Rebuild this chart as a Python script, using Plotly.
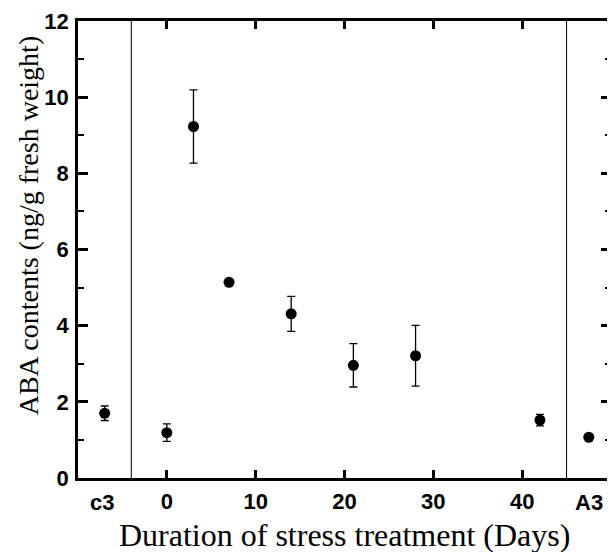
import plotly.graph_objects as go

# Data (days after start of stress; c3 = control, A3 = after recovery)
days = [-7, 0, 3, 7, 14, 21, 28, 42, 47.5]
aba = [1.70, 1.19, 9.23, 5.14, 4.31, 2.96, 3.21, 1.52, 1.07]
err = [0.19, 0.23, 0.96, 0.05, 0.46, 0.57, 0.80, 0.15, 0.05]

x_tickvals = [0, 10, 20, 30, 40]
x_ticktext = ["0", "10", "20", "30", "40"]
side_labels = ["c3", "A3"]
side_label_pos = [-7.3, 47.5]
divider_pos = [-4, 45]
y_tickvals = [0, 2, 4, 6, 8, 10, 12]

x_title = "Duration of stress treatment (Days)"
y_title = "ABA contents (ng/g fresh weight)"

tick_font = dict(family="Liberation Sans, Arial, sans-serif", size=22, color="black")
xtitle_font = dict(family="Liberation Serif, Times New Roman, serif", size=32, color="black")
ytitle_font = dict(family="Liberation Serif, Times New Roman, serif", size=28, color="black")

fig = go.Figure()
fig.add_trace(go.Scatter(
    x=days, y=aba, mode="markers",
    marker=dict(color="black", size=11),
    error_y=dict(type="data", array=err, visible=True, color="black", thickness=1.3, width=4),
    showlegend=False, cliponaxis=False,
))

for xv in divider_pos:
    fig.add_shape(type="line", xref="x", yref="paper", x0=xv, x1=xv, y0=0, y1=1,
                  line=dict(color="black", width=1))

for lab, xv in zip(side_labels, side_label_pos):
    fig.add_annotation(x=xv, xref="x", y=0, yref="paper", yanchor="middle", yshift=-24,
                       text="<b>%s</b>" % lab, showarrow=False, font=tick_font)

fig.add_annotation(x=0.5, xref="paper", y=0, yref="paper", yanchor="middle", yshift=-57,
                   text=x_title, showarrow=False, font=xtitle_font)
fig.add_annotation(x=0, xref="paper", y=0.553, yref="paper", xanchor="center", yanchor="middle",
                   xshift=-50, textangle=-90, text=y_title, showarrow=False, font=ytitle_font)

fig.update_xaxes(
    range=[-10, 50], tickvals=x_tickvals, ticktext=["<b>%s</b>" % t for t in x_ticktext],
    ticks="inside", ticklen=8, tickwidth=2.5, tickcolor="black",
    showline=True, linewidth=2.5, linecolor="black", mirror="allticks",
    showgrid=False, zeroline=False, tickfont=tick_font, ticklabelstandoff=2,
)
fig.update_yaxes(
    range=[0, 12], tickvals=y_tickvals, ticktext=["<b>%d</b>" % v for v in y_tickvals],
    ticks="inside", ticklen=10, tickwidth=2.5, tickcolor="black",
    minor=dict(ticks="inside", ticklen=6, tickwidth=2, tickcolor="black", dtick=1, showgrid=False),
    showline=True, linewidth=2.5, linecolor="black", mirror="allticks",
    showgrid=False, zeroline=False, tickfont=tick_font, ticklabelstandoff=2,
)

# page body has an 8px default margin, so the figure is sized/shifted to compensate
fig.update_layout(
    width=607, height=544,
    margin=dict(l=70, r=4, t=13, b=74, autoexpand=False),
    plot_bgcolor="white", paper_bgcolor="white",
)

fig.write_html("out.html")
